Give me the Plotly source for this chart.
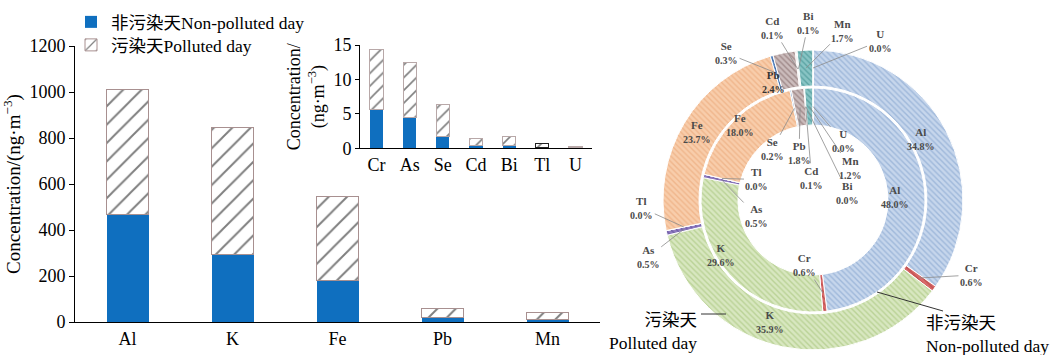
import math
import plotly.graph_objects as go

# ---------------- data ----------------
main_elements = ["Al", "K", "Fe", "Pb", "Mn"]
main_nonpolluted = [468, 293, 181, 18, 12]
main_polluted = [541, 553, 363, 40, 28]
main_yticks = [0, 200, 400, 600, 800, 1000, 1200]

inset_elements = ["Cr", "As", "Se", "Cd", "Bi", "Tl", "U"]
inset_nonpolluted = [5.7, 4.5, 1.65, 0.45, 0.35, 0.05, 0.05]
inset_polluted = [8.65, 7.95, 4.75, 1.0, 1.35, 0.6, 0.2]
inset_yticks = [0, 5, 10, 15]

ring_elements = ["Al", "Cr", "K", "As", "Tl", "Fe", "Se", "Pb", "Cd", "Bi", "Mn", "U"]
ring_nonpolluted = [48.0, 0.6, 29.6, 0.5, 0.0, 18.0, 0.2, 1.8, 0.1, 0.0, 1.2, 0.0]
ring_polluted = [34.8, 0.6, 35.9, 0.5, 0.0, 23.7, 0.3, 2.4, 0.1, 0.1, 1.7, 0.0]

ring_bg = ["#c6d6ec", "#d96a6a", "#d8e7c0", "#8f7ac0", "#4aa3c0", "#f8cdab",
           "#5a86c0", "#cbbcbc", "#c0504d", "#80c2c2", "#88c4c4", "#9bbb59"]
ring_fg = ["#9fb8da", "#c05050", "#bad296", "#7060a8", "#3a8aa8", "#f0b68c",
           "#3e6aa8", "#a08a8a", "#a04040", "#559e9e", "#5ca4a4", "#80a040"]
big_slices = ["Al", "K", "Fe"]

# ---------------- geometry helpers ----------------
W, H = 1059, 355
def px(x):
    return x / W
def py(y):
    return 1 - y / H

CX, CY = 813, 200          # donut centre (pixels)
R_OUT, HOLE_OUT = 150, 0.76
R_IN, HOLE_IN = 112, 0.67

SERIF = "Liberation Serif, Noto Sans CJK SC, serif"
BLUE = "#0f6fbf"

fig = go.Figure()

# ---------------- main bars ----------------
fig.add_trace(go.Bar(
    x=main_elements, y=main_nonpolluted, name="非污染天Non-polluted day",
    marker=dict(color=BLUE, line=dict(width=0)), width=0.4,
    xaxis="x", yaxis="y", legend="legend"))
fig.add_trace(go.Bar(
    x=main_elements, y=main_polluted, name="污染天Polluted day",
    marker=dict(color="white", line=dict(color="#a89090", width=1),
                pattern=dict(shape="/", fgcolor="black", bgcolor="white",
                             size=13, solidity=0.15)),
    width=0.4, xaxis="x", yaxis="y", legend="legend2"))

# ---------------- inset bars ----------------
inset_lines = ["#b8a8a8"] * len(inset_elements)
inset_lines[inset_elements.index("Tl")] = "#202020"
fig.add_trace(go.Bar(
    x=inset_elements, y=inset_nonpolluted, showlegend=False,
    marker=dict(color=BLUE, line=dict(width=0)), width=0.4,
    xaxis="x2", yaxis="y2"))
fig.add_trace(go.Bar(
    x=inset_elements, y=inset_polluted, showlegend=False,
    marker=dict(color="white", line=dict(color=inset_lines, width=1),
                pattern=dict(shape="/", fgcolor="black", bgcolor="white",
                             size=9, solidity=0.18)),
    width=0.4, xaxis="x2", yaxis="y2"))

# ---------------- donut rings ----------------
def ring(values, radius, hole):
    return go.Pie(
        labels=ring_elements, values=values, sort=False, direction="clockwise",
        rotation=0, hole=hole, showlegend=False, textinfo="none",
        domain=dict(x=[px(CX - radius), px(CX + radius)],
                    y=[py(CY + radius), py(CY - radius)]),
        marker=dict(colors=ring_bg, line=dict(color="white", width=1),
                    pattern=dict(shape="\\", fgcolor=ring_fg, bgcolor=ring_bg,
                                 size=4, solidity=0.35)),
        hoverinfo="label+value")

fig.add_trace(ring(ring_polluted, R_OUT, HOLE_OUT))
fig.add_trace(ring(ring_nonpolluted, R_IN, HOLE_IN))

def slice_point(values, element, r):
    i = ring_elements.index(element)
    total = sum(values)
    mid = sum(values[:i]) + values[i] / 2
    th = mid / total * 2 * math.pi
    return CX + r * math.sin(th), CY - r * math.cos(th)

annotations = []
def label_text(el, v):
    return f"<b>{el}</b><br><b><span style='font-size:10px'>{v:.1f}%</span></b>"

RM_OUT = (R_OUT * HOLE_OUT + R_OUT) / 2
RM_IN = (R_IN * HOLE_IN + R_IN) / 2

# large slices: labels inside the ring (element, nudge dx, nudge dy)
big_out = [("Al", 4, 1), ("K", 1, 5), ("Fe", 0, 1)]
big_in = [("Al", 3, 3), ("K", -5, 6), ("Fe", 10, -7)]
for vals, rmid, lst in [(ring_polluted, RM_OUT + 3, big_out),
                        (ring_nonpolluted, RM_IN + 2, big_in)]:
    for el, ndx, ndy in lst:
        x0, y0 = slice_point(vals, el, rmid)
        annotations.append(dict(
            x=px(x0 + ndx), y=py(y0 + ndy), xref="paper", yref="paper",
            showarrow=False, text=label_text(el, vals[ring_elements.index(el)]),
            font=dict(family=SERIF, size=11, color="#4a4a4a")))

# (element, dx, dy) label offsets in pixels for small slices
outer_labels = [("Cr", 52, -3), ("As", -36, 28), ("Tl", -42, -19), ("Se", -50, -20),
                ("Cd", -25, -41), ("Bi", 10, -46), ("Mn", 37, -37), ("U", 67, -27)]
inner_labels = [("Cr", -18, -28), ("As", 35, 36), ("Tl", 35, 1), ("Se", -22, 41),
                ("Pb", -1, 46), ("Cd", 6, 71), ("Bi", 42, 86), ("Mn", 41, 61), ("U", 30, 35)]

for vals, rmid, lst in [(ring_polluted, RM_OUT, outer_labels),
                        (ring_nonpolluted, RM_IN, inner_labels)]:
    for el, dx, dy in lst:
        x0, y0 = slice_point(vals, el, rmid)
        v = vals[ring_elements.index(el)]
        annotations.append(dict(
            x=px(x0), y=py(y0), xref="paper", yref="paper",
            text=label_text(el, v), showarrow=True, arrowhead=0,
            arrowwidth=0.8, arrowcolor="#8a8a8a", ax=dx, ay=dy,
            font=dict(family=SERIF, size=11, color="#4a4a4a"), standoff=0))

# Pb label inside outer ring
xpb, ypb = slice_point(ring_polluted, "Pb", 136)
annotations.append(dict(
    x=px(xpb), y=py(ypb), xref="paper", yref="paper", showarrow=False,
    text=label_text("Pb", ring_polluted[ring_elements.index("Pb")]),
    font=dict(family=SERIF, size=11, color="#333333")))

# ring callouts (two-line text + leader line)
annotations.append(dict(
    x=px(699), y=py(331), xref="paper", yref="paper",
    text="污染天<br>Polluted day", showarrow=False, xanchor="right",
    yanchor="middle", align="right",
    font=dict(family=SERIF, size=17.5, color="black")))
annotations.append(dict(
    x=px(924), y=py(334), xref="paper", yref="paper",
    text="非污染天<br>Non-polluted day", showarrow=False, xanchor="left",
    yanchor="middle", align="left",
    font=dict(family=SERIF, size=17.5, color="black")))

shapes = [
    dict(type="line", xref="paper", yref="paper", x0=px(701), y0=py(314),
         x1=px(726), y1=py(314), line=dict(color="#333", width=1)),
    dict(type="line", xref="paper", yref="paper", x0=px(943), y0=py(311),
         x1=px(877), y1=py(292), line=dict(color="#333", width=1)),
]

axis_common = dict(showline=True, linecolor="black", linewidth=1, showgrid=False,
                   zeroline=False, automargin=False,
                   tickfont=dict(family=SERIF, size=18, color="black"))

legend_common = dict(xanchor="left", yanchor="middle", bgcolor="rgba(0,0,0,0)",
                     font=dict(family=SERIF, size=17.5, color="black"))

fig.update_layout(
    width=W, height=H, margin=dict(l=0, r=0, t=0, b=0, pad=0, autoexpand=False),
    paper_bgcolor="white", plot_bgcolor="rgba(0,0,0,0)",
    barmode="stack",
    font=dict(family=SERIF, color="black"),
    xaxis=dict(domain=[px(75), px(600)], range=[-0.5, 4.5], anchor="y",
               ticks="", **axis_common),
    yaxis=dict(domain=[py(322), py(46)], range=[0, 1200], anchor="x",
               tickvals=main_yticks, ticks="outside", ticklen=5, tickcolor="black",
               title=dict(text="Concentration/(ng·m<sup>−3</sup>)",
                          font=dict(family=SERIF, size=19), standoff=8),
               **axis_common),
    xaxis2=dict(domain=[px(360), px(592)], range=[-0.5, 6.5], anchor="y2",
                ticks="", **axis_common),
    yaxis2=dict(domain=[py(148.3), py(45)], range=[0, 15], anchor="x2",
                tickvals=inset_yticks, ticks="outside", ticklen=4, tickcolor="black",
                title=dict(text="Concentration/<br>(ng·m<sup>−3</sup>)",
                           font=dict(family=SERIF, size=18), standoff=4),
                **axis_common),
    legend=dict(x=px(71), y=py(22), **legend_common),
    legend2=dict(x=px(71), y=py(45), **legend_common),
    annotations=annotations,
    shapes=shapes,
)

fig.write_html("out.html", config={"displayModeBar": False},
               post_script="document.body.style.margin='0px';document.body.style.padding='0px';")
